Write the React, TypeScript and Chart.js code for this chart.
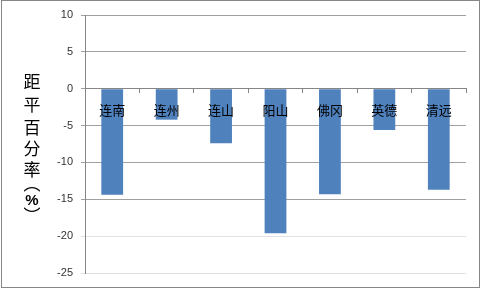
import React, { useEffect, useRef } from "react";
import { Chart, registerables } from "chart.js";

Chart.register(...registerables);

const categories = ["连南", "连州", "连山", "阳山", "佛冈", "英德", "清远"];
const anomalyValues = [-14.4, -4.2, -7.4, -19.6, -14.3, -5.6, -13.7];
const yMin = -25;
const yMax = 10;
const yStep = 5;
const titleChars = ["距", "平", "百", "分", "率", "︵", "%", "︶"];
const titleCenters = [82, 105, 128, 149, 170, 184, 201, 216];

const framePlugin = {
  id: "frame",
  beforeDraw(chart: any) {
    const ctx = chart.ctx;
    ctx.save();
    ctx.fillStyle = "#ffffff";
    ctx.fillRect(0, 0, chart.width, chart.height);
    ctx.strokeStyle = "#868686";
    ctx.lineWidth = 1;
    ctx.strokeRect(1.5, 0.5, 478, 287);
    ctx.restore();
  },
  afterDraw(chart: any) {
    const ctx = chart.ctx;
    ctx.save();
    ctx.fillStyle = "#000000";
    ctx.textAlign = "center";
    ctx.textBaseline = "middle";
    titleChars.forEach((ch, i) => {
      const isPct = ch === "%";
      ctx.font = isPct
        ? "bold 15px 'Liberation Sans', sans-serif"
        : "17px 'Noto Sans CJK SC', sans-serif";
      ctx.fillText(ch, 32, titleCenters[i]);
    });
    ctx.restore();
  },
};

export default function App() {
  const ref = useRef<HTMLCanvasElement | null>(null);
  useEffect(() => {
    document.body.style.margin = "0";
    const canvas = ref.current!;
    const chart = new Chart(canvas, {
      type: "bar",
      data: {
        labels: categories,
        datasets: [
          {
            data: anomalyValues,
            backgroundColor: "#4f81bd",
            borderWidth: 0,
            barPercentage: 0.8,
            categoryPercentage: 0.5,
          },
        ],
      },
      options: {
        responsive: false,
        animation: false,
        layout: { padding: { left: 0, right: 15, top: 15, bottom: 16 } },
        plugins: { legend: { display: false }, tooltip: { enabled: false } },
        scales: {
          x: {
            position: { y: 0 } as any,
            grid: {
              drawOnChartArea: false,
              drawTicks: true,
              tickLength: 4,
              color: "#868686",
              offset: true,
            },
            border: { color: "#868686" },
            ticks: {
              z: 1,
              color: "#000000",
              padding: 10,
              font: { family: "'Noto Sans CJK SC', sans-serif", size: 13 },
            },
          },
          y: {
            min: yMin,
            max: yMax,
            afterFit(scale: any) {
              scale.width = 85;
            },
            ticks: {
              stepSize: yStep,
              color: "#333333",
              padding: 8,
              font: { family: "'Liberation Sans', sans-serif", size: 11 },
            },
            grid: {
              tickLength: 4,
              color: (c: any) =>
                c.tick && c.tick.value <= -20 ? "#e2e2e2" : "#a0a0a0",
            },
            border: { color: "#868686" },
          },
        },
      },
      plugins: [framePlugin],
    });
    return () => chart.destroy();
  }, []);
  return (
    <div style={{ position: "absolute", left: 0, top: 0, width: 481, height: 289 }}>
      <canvas ref={ref} width={481} height={289} style={{ display: "block" }} />
    </div>
  );
}
